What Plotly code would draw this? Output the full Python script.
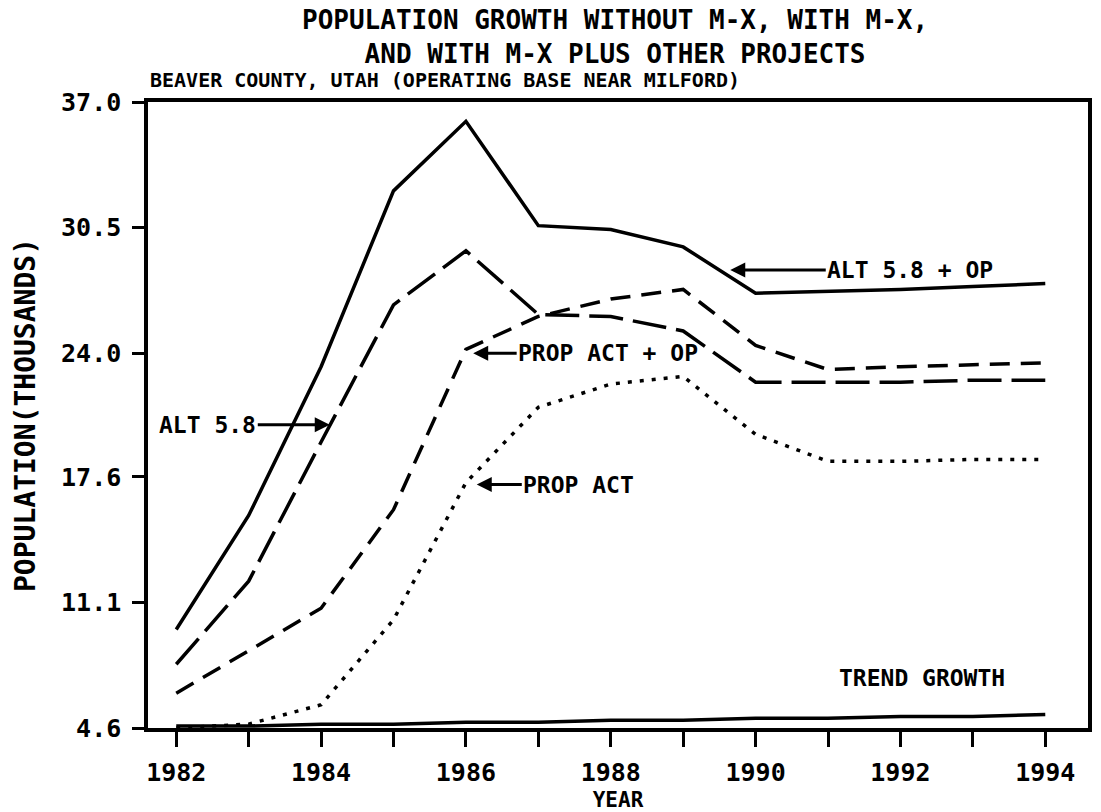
import plotly.graph_objects as go

# ---- data (thousands of persons) ----
years = list(range(1982, 1995))
alt58_op = [9.7, 15.6, 23.3, 32.4, 36.0, 30.6, 30.4, 29.5, 27.1, 27.2, 27.3, 27.45, 27.6]
alt58 = [7.9, 12.2, 19.4, 26.5, 29.3, 26.0, 25.9, 25.15, 22.5, 22.5, 22.5, 22.6, 22.6]
prop_act_op = [6.4, 8.6, 10.8, 15.9, 24.2, 25.9, 26.8, 27.3, 24.4, 23.15, 23.3, 23.4, 23.5]
prop_act = [4.6, 4.8, 5.8, 10.2, 17.3, 21.2, 22.4, 22.8, 19.8, 18.4, 18.4, 18.5, 18.5]
trend = [4.7, 4.7, 4.8, 4.8, 4.9, 4.9, 5.0, 5.0, 5.1, 5.1, 5.2, 5.2, 5.3]

y_tick_vals = [4.6, 11.1, 17.6, 24.0, 30.5, 37.0]
y_tick_text = ["4.6", "11.1", "17.6", "24.0", "30.5", "37.0"]
x_tick_text = [str(y) if y % 2 == 0 else "" for y in years]

FONT = "DejaVu Sans Mono"
BLACK = "#000000"

fig = go.Figure()

def add_line(vals, dash, name):
    fig.add_trace(go.Scatter(
        x=years, y=vals, mode="lines", name=name,
        line=dict(color=BLACK, width=3.5, dash=dash),
        showlegend=False, hoverinfo="x+y",
    ))

add_line(alt58_op, "solid", "ALT 5.8 + OP")
add_line(alt58, "34px,10px", "ALT 5.8")
add_line(prop_act_op, "20px,11px", "PROP ACT + OP")
add_line(prop_act, "4px,8px", "PROP ACT")
add_line(trend, "solid", "TREND GROWTH")

lab_font = dict(family=FONT, size=23, color=BLACK, weight="bold")

annotations = [
    # title (two lines in one text)
    dict(text="POPULATION GROWTH WITHOUT M-X, WITH M-X,<br>AND WITH M-X PLUS OTHER PROJECTS",
         xref="paper", yref="paper", x=0.497, y=1.0, yanchor="middle", yshift=65,
         showarrow=False, align="center",
         font=dict(family=FONT, size=26, color=BLACK, weight="bold")),
    dict(text="BEAVER COUNTY, UTAH (OPERATING BASE NEAR MILFORD)", xref="paper", yref="paper",
         x=0.0, xanchor="left", y=1.0, yanchor="middle", yshift=22, showarrow=False,
         font=dict(family=FONT, size=20, color=BLACK, weight="bold")),
    # line labels
    dict(text="ALT 5.8 + OP", x=1989.65, y=28.3, ax=180, ay=0,
         showarrow=True, arrowhead=2, arrowsize=1, arrowwidth=3, arrowcolor=BLACK,
         font=lab_font),
    dict(text="ALT 5.8", x=1984.12, y=20.3, ax=-122, ay=0,
         showarrow=True, arrowhead=2, arrowsize=1, arrowwidth=3, arrowcolor=BLACK,
         font=lab_font),
    dict(text="PROP ACT + OP", x=1986.1, y=24.0, ax=135, ay=0,
         showarrow=True, arrowhead=2, arrowsize=1, arrowwidth=3, arrowcolor=BLACK,
         font=lab_font),
    dict(text="PROP ACT", x=1986.15, y=17.2, ax=102, ay=0,
         showarrow=True, arrowhead=2, arrowsize=1, arrowwidth=3, arrowcolor=BLACK,
         font=lab_font),
    dict(text="TREND GROWTH", x=1992.3, y=7.2, showarrow=False, font=lab_font),
]

fig.update_layout(
    width=1101, height=812,
    paper_bgcolor="white", plot_bgcolor="white",
    margin=dict(l=148, r=13, t=102, b=84, autoexpand=False),
    annotations=annotations,
    xaxis=dict(
        range=[1981.61, 1994.59], tickmode="array", tickvals=years, ticktext=x_tick_text,
        ticks="outside", ticklen=15, tickwidth=3, tickcolor=BLACK,
        showline=True, linewidth=3.5, linecolor=BLACK, mirror=True,
        showgrid=False, zeroline=False, ticklabelstandoff=4, automargin=False,
        tickfont=dict(family=FONT, size=25, color=BLACK, weight="bold"),
        title=dict(text="YEAR", standoff=8,
                   font=dict(family=FONT, size=21, color=BLACK, weight="bold")),
    ),
    yaxis=dict(
        range=[4.6, 37.0], tickmode="array", tickvals=y_tick_vals, ticktext=y_tick_text,
        ticks="outside", ticklen=12, tickwidth=3, tickcolor=BLACK,
        showline=True, linewidth=3.5, linecolor=BLACK, mirror=True,
        showgrid=False, zeroline=False, ticklabelstandoff=6, automargin=False,
        tickfont=dict(family=FONT, size=25, color=BLACK, weight="bold"),
        title=dict(text="POPULATION(THOUSANDS)", standoff=18,
                   font=dict(family=FONT, size=28, color=BLACK, weight="bold")),
    ),
)

fig.write_html("out.html", config={"displayModeBar": False},
               post_script="document.body.style.margin='0px';")
